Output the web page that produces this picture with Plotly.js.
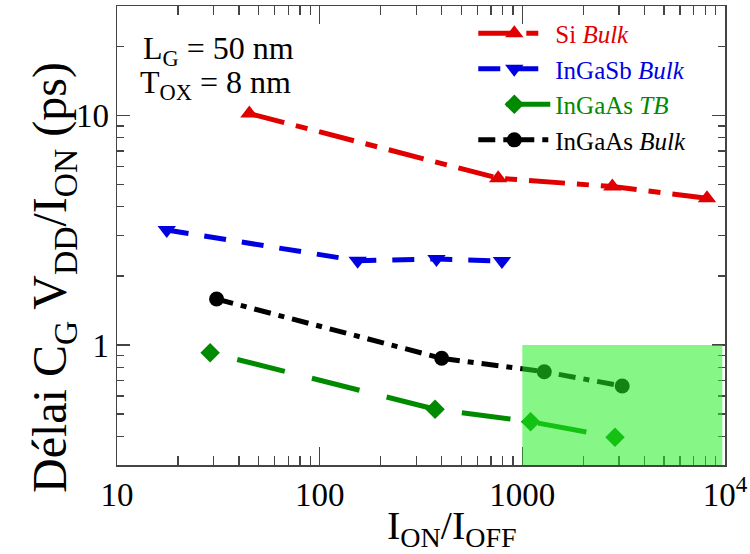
<!DOCTYPE html>
<html>
<head>
<meta charset="utf-8">
<script src="https://cdn.plot.ly/plotly-3.0.1.min.js"></script>
<style>html,body{margin:0;padding:0;background:#fff}#chart{width:750px;height:554px}</style>
</head>
<body>
<div id="chart"></div>
<script>
// ---- data ----
const seriesNames = ['Si <i>Bulk</i>', 'InGaSb <i>Bulk</i>', 'InGaAs <i>TB</i>', 'InGaAs <i>Bulk</i>'];
const siX = [45, 760, 2780, 8150];
const siY = [10.2, 5.33, 4.9, 4.36];
const ingasbX = [17.6, 154, 377, 793];
const ingasbY = [3.17, 2.33, 2.37, 2.32];
const ingaasTbX = [28.8, 371, 1099, 2865];
const ingaasTbY = [0.926, 0.525, 0.463, 0.396];
const ingaasBulkX = [31, 400, 1283, 3110];
const ingaasBulkY = [1.586, 0.875, 0.765, 0.663];
const xTickVals = [10, 100, 1000, 10000];
const xTickText = ['10', '100', '1000', '10<sup>4</sup>'];
const yTickVals = [1, 10];
const yTickText = ['1', '10'];
const xMinor = [20,30,40,50,60,70,80,90,200,300,400,500,600,700,800,900,2000,3000,4000,5000,6000,7000,8000,9000];
const yMinor = [0.4,0.5,0.6,0.7,0.8,0.9,2,3,4,5,6,7,8,9,20];
const zoneX = [1000, 9700];
const zoneY = [0.3, 1];

const FONT = 'Liberation Serif, Times New Roman, serif';
const colors = ['#e00000', '#0000e0', '#008a00', '#000000'];

function tr(x, y, i, symbol, size, dash) {
  return {
    x: x, y: y, type: 'scatter', mode: 'lines+markers',
    name: '<span style="color:' + colors[i] + '">' + seriesNames[i] + '</span>',
    line: {color: colors[i], width: 5, dash: dash},
    marker: {color: colors[i], symbol: symbol, size: size}
  };
}

const data = [
  tr(siX, siY, 0, 'triangle-up', 16, '36px,12px,12px,12px'),
  tr(ingasbX, ingasbY, 1, 'triangle-down', 16, '22px,16px'),
  tr(ingaasTbX, ingaasTbY, 2, 'diamond', 15, '0px,28px,49px,0px'),
  tr(ingaasBulkX, ingaasBulkY, 3, 'circle', 15, '17px,8px,6px,8px')
];

const axCommon = {
  type: 'log', showgrid: false, zeroline: false, showline: true,
  linecolor: '#444', linewidth: 1.5, ticks: 'inside', tickcolor: '#444',
  tickwidth: 1.2, mirror: 'ticks',
  tickfont: {family: FONT, size: 33, color: '#000'}
};

const layout = {
  width: 750, height: 554,
  margin: {l: 117, r: 25, t: 6, b: 89},
  paper_bgcolor: '#fff', plot_bgcolor: '#fff',
  font: {family: FONT, color: '#000'},
  xaxis: Object.assign({}, axCommon, {
    range: [1, 4], tickmode: 'array', tickvals: xTickVals, ticktext: xTickText, ticklen: 18,
    minor: {tickmode: 'array', tickvals: xMinor, ticks: 'inside', ticklen: 9, tickcolor: '#444', tickwidth: 1.2, showgrid: false}
  }),
  yaxis: Object.assign({}, axCommon, {
    range: [Math.log10(0.3), Math.log10(30)], tickmode: 'array', tickvals: yTickVals, ticktext: yTickText, ticklen: 13,
    minor: {tickmode: 'array', tickvals: yMinor, ticks: 'inside', ticklen: 7, tickcolor: '#444', tickwidth: 1.2, showgrid: false}
  }),
  legend: {
    x: 0.586, y: 0.99, xanchor: 'left', yanchor: 'top',
    bgcolor: 'rgba(0,0,0,0)', borderwidth: 0, itemwidth: 72,
    font: {family: FONT, size: 25, color: '#000'}, tracegroupgap: 0
  },
  shapes: [{
    type: 'rect', xref: 'x', yref: 'y', layer: 'above',
    x0: zoneX[0], x1: zoneX[1], y0: zoneY[0], y1: zoneY[1],
    fillcolor: '#22f022', opacity: 0.55, line: {width: 0}
  }],
  annotations: [
    {xref: 'paper', yref: 'paper', x: 0.039, y: 0.904, xanchor: 'left', yanchor: 'middle', showarrow: false,
     text: 'L<sub>G</sub> = 50 nm', font: {family: FONT, size: 32, color: '#000'}},
    {xref: 'paper', yref: 'paper', x: 0.035, y: 0.828, xanchor: 'left', yanchor: 'middle', showarrow: false,
     text: 'T<sub>OX</sub> = 8 nm', font: {family: FONT, size: 32, color: '#000'}},
    {xref: 'paper', yref: 'paper', x: 0.551, y: -0.137, xanchor: 'center', yanchor: 'middle', showarrow: false,
     text: 'I<sub>ON</sub>/I<sub>OFF</sub>', font: {family: FONT, size: 40, color: '#000'}},
    {xref: 'paper', yref: 'paper', x: -0.104, y: 0.409, xanchor: 'center', yanchor: 'middle', showarrow: false, textangle: -90,
     text: 'Délai C<sub>G</sub> V<sub>DD</sub>/I<sub>ON</sub> (ps)', font: {family: FONT, size: 48, color: '#000'}}
  ]
};

Plotly.newPlot('chart', data, layout, {staticPlot: true});
</script>
</body>
</html>
